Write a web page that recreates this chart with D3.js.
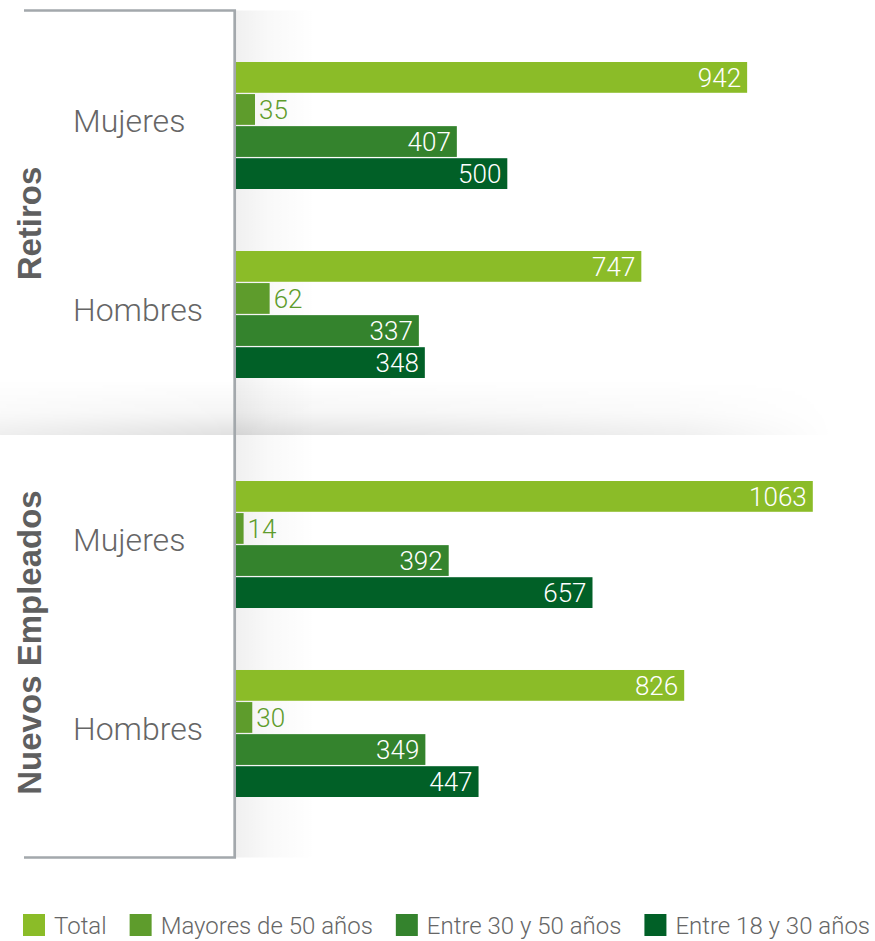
<!DOCTYPE html>
<html>
<head>
<meta charset="utf-8">
<script src="https://cdn.jsdelivr.net/npm/d3@7"></script>
<style>
  html, body { margin: 0; padding: 0; background: #fff; }
  svg { display: block; }
</style>
</head>
<body>
<div id="chart"></div>
<script>
// ---------- data ----------
const sections = ["Retiros", "Nuevos Empleados"];
const genders = ["Mujeres", "Hombres"];
const seriesNames = ["Total", "Mayores de 50 años", "Entre 30 y 50 años", "Entre 18 y 30 años"];
const retirosMujeres = [942, 35, 407, 500];
const retirosHombres = [747, 62, 337, 348];
const nuevosMujeres = [1063, 14, 392, 657];
const nuevosHombres = [826, 30, 349, 447];
const seriesColors = ["#8bbc28", "#5e9c2c", "#34832d", "#016027"];

// table built from the arrays
const table = [
  { section: "Retiros", gender: "Mujeres", values: retirosMujeres },
  { section: "Retiros", gender: "Hombres", values: retirosHombres },
  { section: "Nuevos Empleados", gender: "Mujeres", values: nuevosMujeres },
  { section: "Nuevos Empleados", gender: "Hombres", values: nuevosHombres }
];

// ---------- layout ----------
const W = 875, H = 941;
const lightFont = "Roboto, 'Liberation Sans', Arial, sans-serif";
const boldFont = "'Liberation Sans', Arial, sans-serif";
const axisX = 234.7;

const svg = d3.select("#chart").append("svg")
  .attr("width", W).attr("height", H)
  .attr("viewBox", `0 0 ${W} ${H}`);

const x = d3.scaleLinear().domain([0, 1150]).range([236, 860]);
const ySection = d3.scaleBand().domain(sections).range([14, 852]);
const yGroup = d3.scaleBand().domain(genders).range([0, ySection.bandwidth()])
  .paddingInner(0.328).paddingOuter(0.2725).align(0.466);
const ySeries = d3.scaleBand().domain(seriesNames).range([0, yGroup.bandwidth()])
  .paddingInner(0.04);
const color = d3.scaleOrdinal().domain(seriesNames).range(seriesColors);

const frameTop = ySection.range()[0] - 3.5;
const frameBottom = ySection.range()[1] + 5.5;
const dividerY = ySection("Nuevos Empleados") + 2;

// ---------- gradients ----------
const defs = svg.append("defs");
const gV = defs.append("linearGradient").attr("id", "stripGrad")
  .attr("x1", 0).attr("x2", 1).attr("y1", 0).attr("y2", 0);
gV.append("stop").attr("offset", 0).attr("stop-color", "#000").attr("stop-opacity", 0.06);
gV.append("stop").attr("offset", 0.4).attr("stop-color", "#000").attr("stop-opacity", 0.025);
gV.append("stop").attr("offset", 1).attr("stop-color", "#000").attr("stop-opacity", 0);

const gH = defs.append("linearGradient").attr("id", "bandGrad")
  .attr("x1", 0).attr("x2", 0).attr("y1", 0).attr("y2", 1);
gH.append("stop").attr("offset", 0).attr("stop-color", "#000").attr("stop-opacity", 0);
gH.append("stop").attr("offset", 0.6).attr("stop-color", "#000").attr("stop-opacity", 0.04);
gH.append("stop").attr("offset", 1).attr("stop-color", "#000").attr("stop-opacity", 0.12);

const gM = defs.append("linearGradient").attr("id", "bandMaskGrad")
  .attr("x1", 0).attr("x2", 1).attr("y1", 0).attr("y2", 0);
[[0, 0.55], [0.27, 1], [0.5, 0.85], [0.8, 0.5], [0.98, 0]].forEach(([o, a]) =>
  gM.append("stop").attr("offset", o).attr("stop-color", "#fff").attr("stop-opacity", a));
defs.append("mask").attr("id", "bandMask")
  .append("rect").attr("x", 0).attr("y", dividerY - 60).attr("width", 850).attr("height", 60)
  .attr("fill", "url(#bandMaskGrad)");

// shadow band above the divider
svg.append("rect")
  .attr("x", 0).attr("y", dividerY - 55).attr("width", 850).attr("height", 55)
  .attr("fill", "url(#bandGrad)").attr("mask", "url(#bandMask)");
// shadow strip right of the axis
svg.append("rect")
  .attr("x", axisX + 1).attr("y", frameTop).attr("width", 80).attr("height", frameBottom - frameTop)
  .attr("fill", "url(#stripGrad)");

// ---------- frame ----------
svg.append("path")
  .attr("d", `M24,${frameTop} H${axisX} V${frameBottom} H24`)
  .attr("fill", "none").attr("stroke", "#a3a8ac").attr("stroke-width", 2.7);

// ---------- section titles ----------
svg.selectAll("text.section").data(sections).join("text")
  .attr("class", "section")
  .attr("transform", d => `translate(41,${ySection(d) + ySection.bandwidth() / 2}) rotate(-90)`)
  .attr("text-anchor", "middle")
  .attr("font-family", boldFont).attr("font-weight", "bold").attr("font-size", 33)
  .attr("fill", "#5f5f5f")
  .text(d => d);

// ---------- groups ----------
const groups = svg.selectAll("g.group").data(table).join("g")
  .attr("class", "group")
  .attr("transform", d => `translate(0,${ySection(d.section) + yGroup(d.gender)})`);

groups.append("text")
  .attr("x", 73).attr("y", yGroup.bandwidth() / 2 + 7)
  .attr("font-family", lightFont).attr("font-weight", 300).attr("font-size", 32)
  .attr("fill", "#666")
  .text(d => d.gender);

const bars = groups.selectAll("g.bar")
  .data(d => d.values.map((v, i) => ({ name: seriesNames[i], value: v })))
  .join("g").attr("class", "bar");

bars.append("rect")
  .attr("x", x(0))
  .attr("y", d => ySeries(d.name))
  .attr("width", d => x(d.value) - x(0))
  .attr("height", ySeries.bandwidth())
  .attr("fill", d => color(d.name));

bars.append("text")
  .attr("font-family", lightFont).attr("font-weight", 300).attr("font-size", 26)
  .attr("y", d => ySeries(d.name) + ySeries.bandwidth() / 2 + 9.5)
  .each(function (d) {
    const t = d3.select(this).text(d.value);
    const w = this.getComputedTextLength();
    const barW = x(d.value) - x(0);
    if (barW >= w + 10) {
      t.attr("x", x(d.value) - 6).attr("text-anchor", "end").attr("fill", "#fff");
    } else {
      t.attr("x", x(d.value) + 4).attr("text-anchor", "start").attr("fill", color(d.name));
    }
  });

// ---------- legend ----------
const legend = svg.append("g").attr("class", "legend");
const legendItems = legend.selectAll("g").data(seriesNames).join("g");
legendItems.append("rect")
  .attr("width", 22).attr("height", 22)
  .attr("y", 914)
  .attr("fill", d => color(d));
legendItems.append("text")
  .attr("x", 31).attr("y", 934)
  .attr("font-family", lightFont).attr("font-weight", 300).attr("font-size", 24)
  .attr("fill", "#666")
  .text(d => d);
const widths = [];
legendItems.each(function () { widths.push(31 + d3.select(this).select("text").node().getComputedTextLength()); });
const legendStart = 23, legendEnd = 870;
const gap = (legendEnd - legendStart - d3.sum(widths)) / (widths.length - 1);
let cx = legendStart;
legendItems.attr("transform", (d, i) => { const t = `translate(${cx},0)`; cx += widths[i] + gap; return t; });
</script>
</body>
</html>
